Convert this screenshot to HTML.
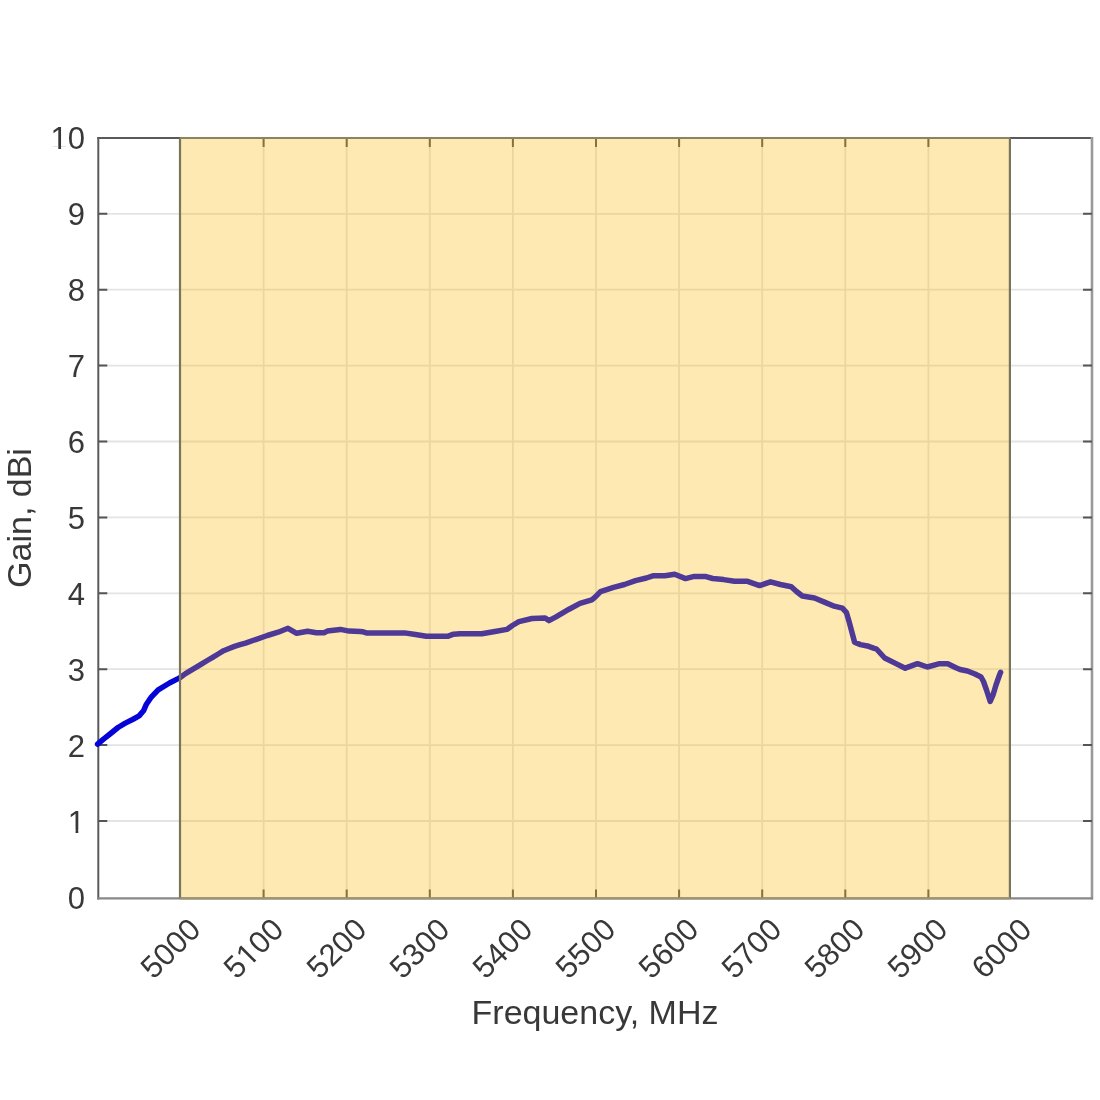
<!DOCTYPE html>
<html><head><meta charset="utf-8"><style>
html,body{margin:0;padding:0;background:#fff;}
body{width:1100px;height:1100px;position:relative;overflow:hidden;font-family:"Liberation Sans",sans-serif;color:#383838;}
#wrap{position:absolute;left:0;top:0;width:1100px;height:1100px;filter:blur(0.55px);}
.yl{position:absolute;right:1015px;margin-top:-14.5px;font-size:31px;line-height:1;white-space:nowrap;}
.xl{position:absolute;width:0;height:0;}
.xl span{position:absolute;right:0;top:0;font-size:31px;line-height:1;white-space:nowrap;transform-origin:100% 0;transform:translate(3px,15px) rotate(-45deg);}
.one{font-style:normal;display:inline-block;line-height:1;clip-path:polygon(0 0,100% 0,100% 74.6%,61.1% 74.6%,61.1% 100%,45.2% 100%,45.2% 74.6%,0 74.6%);}
.xlab{position:absolute;left:0;width:1190px;text-align:center;top:995px;font-size:34px;line-height:1;white-space:nowrap;}
.ylab{position:absolute;left:19px;top:517.5px;width:0;height:0;}
.ylab span{position:absolute;left:0;top:0;font-size:34px;line-height:1;white-space:nowrap;transform:translate(-50%,-50%) rotate(-90deg);}
</style></head>
<body><div id="wrap">
<svg width="1100" height="1100" viewBox="0 0 1100 1100" style="position:absolute;left:0;top:0"><path d="M98.3 821.0H1092.0M98.3 745.1H1092.0M98.3 669.2H1092.0M98.3 593.3H1092.0M98.3 517.4H1092.0M98.3 441.5H1092.0M98.3 365.6H1092.0M98.3 289.7H1092.0M98.3 213.8H1092.0M263.6 137.9V898.4M346.7 137.9V898.4M429.8 137.9V898.4M512.9 137.9V898.4M596.0 137.9V898.4M679.1 137.9V898.4M762.2 137.9V898.4M845.3 137.9V898.4M928.4 137.9V898.4" stroke="#e4e4e4" stroke-width="1.8" fill="none"/><path d="M98.3 136.9V899.4" stroke="#5a5a5a" stroke-width="2.0"/><path d="M97.3 137.9H1093.0" stroke="#5a5a5a" stroke-width="2.0"/><path d="M1092.0 136.9V899.4" stroke="#9a9a9a" stroke-width="2.6"/><path d="M97.3 898.4H1093.0" stroke="#888888" stroke-width="2.4"/><path d="M98.3 821.0h9M1092.0 821.0h-9M98.3 745.1h9M1092.0 745.1h-9M98.3 669.2h9M1092.0 669.2h-9M98.3 593.3h9M1092.0 593.3h-9M98.3 517.4h9M1092.0 517.4h-9M98.3 441.5h9M1092.0 441.5h-9M98.3 365.6h9M1092.0 365.6h-9M98.3 289.7h9M1092.0 289.7h-9M98.3 213.8h9M1092.0 213.8h-9M263.6 898.4v-9M263.6 137.9v9M346.7 898.4v-9M346.7 137.9v9M429.8 898.4v-9M429.8 137.9v9M512.9 898.4v-9M512.9 137.9v9M596.0 898.4v-9M596.0 137.9v9M679.1 898.4v-9M679.1 137.9v9M762.2 898.4v-9M762.2 137.9v9M845.3 898.4v-9M845.3 137.9v9M928.4 898.4v-9M928.4 137.9v9" stroke="#555555" stroke-width="2.0"/><path d="M97.6 744.2 L103.5 739.1 L110.0 734.0 L118.0 727.5 L125.3 723.1 L132.6 719.5 L139.1 715.9 L143.5 710.8 L146.4 704.2 L150.8 697.7 L158.2 689.8 L169.5 683.0 L178.6 678.4 L180.5 677.3 L185.5 673.6 L190.9 670.4 L196.4 667.1 L201.8 663.8 L207.3 660.5 L212.7 657.3 L218.2 654.0 L223.6 650.7 L229.1 648.5 L234.5 646.4 L240.0 644.7 L245.5 643.1 L256.4 639.3 L267.3 635.5 L278.2 632.2 L288.0 628.3 L296.7 633.3 L307.6 631.3 L316.4 632.7 L324.0 632.7 L327.3 631.1 L340.4 629.4 L349.1 631.1 L360.0 631.6 L363.1 631.8 L366.4 632.9 L404.5 632.9 L415.5 634.5 L426.4 636.2 L448.2 636.2 L453.6 634.2 L460.0 633.7 L481.8 633.7 L494.9 631.5 L506.9 629.4 L512.4 625.5 L518.9 621.7 L532.0 618.5 L545.1 617.9 L548.9 620.6 L556.0 616.8 L569.1 609.2 L580.0 603.4 L591.8 599.8 L595.1 597.1 L600.5 591.6 L613.6 587.3 L624.5 584.5 L635.5 580.7 L646.4 578.0 L652.9 575.8 L664.9 575.8 L674.7 574.2 L685.5 578.6 L694.2 576.4 L705.1 576.4 L712.7 578.5 L723.6 579.6 L734.5 581.3 L747.6 581.3 L759.6 585.6 L770.5 581.8 L780.4 584.5 L791.3 586.7 L796.5 591.5 L802.3 596.0 L814.5 598.0 L824.4 602.1 L834.2 606.2 L842.4 608.2 L846.5 612.7 L848.9 620.9 L852.2 633.2 L854.6 642.2 L860.4 644.6 L868.6 646.3 L874.3 648.3 L876.5 649.0 L884.7 658.0 L894.5 662.9 L905.2 668.2 L917.5 663.7 L927.3 667.0 L939.6 663.7 L947.7 663.7 L955.9 667.8 L960.0 669.5 L967.5 671.0 L975.0 674.0 L981.0 677.0 L983.5 681.5 L986.5 690.0 L990.2 701.5 L993.0 695.0 L996.0 685.0 L999.5 675.0 L1000.6 672.3" stroke="#0503d8" stroke-width="5.5" fill="none" stroke-linejoin="round" stroke-linecap="round"/><rect x="180.0" y="136.9" width="829.9" height="762.5" fill="rgb(252,182,0)" fill-opacity="0.3"/><path d="M180.0 137.9V898.4M1009.9 137.9V898.4" stroke="#7a755a" stroke-width="2.2"/><path d="M180.0 137.9H1009.9" stroke="#8a8466" stroke-width="2.0"/><path d="M180.0 898.4H1009.9" stroke="#9a9478" stroke-width="2.4"/></svg>
<div class="yl" style="top:897.9px">0</div><div class="yl" style="top:821.0px"><i class="one">1</i></div><div class="yl" style="top:745.1px">2</div><div class="yl" style="top:669.2px">3</div><div class="yl" style="top:593.3px">4</div><div class="yl" style="top:517.4px">5</div><div class="yl" style="top:441.5px">6</div><div class="yl" style="top:365.6px">7</div><div class="yl" style="top:289.7px">8</div><div class="yl" style="top:213.8px">9</div><div class="yl" style="top:137.9px"><i class="one">1</i>0</div><div class="xl" style="left:180.5px;top:898.4px"><span>5000</span></div><div class="xl" style="left:263.6px;top:898.4px"><span>5<i class="one">1</i>00</span></div><div class="xl" style="left:346.7px;top:898.4px"><span>5200</span></div><div class="xl" style="left:429.8px;top:898.4px"><span>5300</span></div><div class="xl" style="left:512.9px;top:898.4px"><span>5400</span></div><div class="xl" style="left:596.0px;top:898.4px"><span>5500</span></div><div class="xl" style="left:679.1px;top:898.4px"><span>5600</span></div><div class="xl" style="left:762.2px;top:898.4px"><span>5700</span></div><div class="xl" style="left:845.3px;top:898.4px"><span>5800</span></div><div class="xl" style="left:928.4px;top:898.4px"><span>5900</span></div><div class="xl" style="left:1011.5px;top:898.4px"><span>6000</span></div><div class="xlab">Frequency, MHz</div><div class="ylab"><span>Gain, dBi</span></div>
</div></body></html>
